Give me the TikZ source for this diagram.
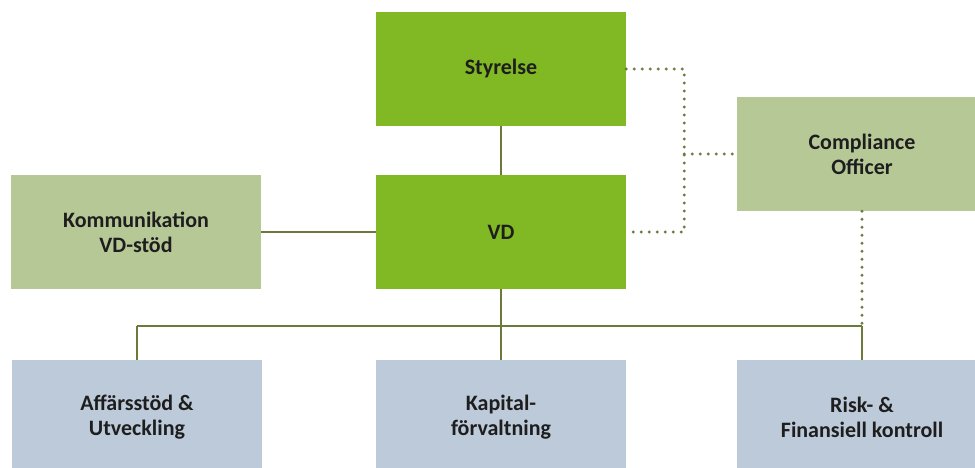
\documentclass[tikz,border=0pt]{standalone}
\usepackage{fontspec}
\setmainfont{Carlito}
\usetikzlibrary{positioning}
\definecolor{grn}{HTML}{80B924}
\definecolor{pal}{HTML}{B7C897}
\definecolor{blu}{HTML}{BDCADA}
\definecolor{oliv}{HTML}{6B7A3A}
\definecolor{txt}{HTML}{1E1E1E}
\tikzset{box/.style={rectangle,minimum width=250pt,minimum height=114pt,inner sep=0pt,align=center,text=txt,font=\fontsize{22}{25}\selectfont\bfseries}}
\tikzset{boxg/.style={box,fill=grn}}
\tikzset{boxl/.style={box,fill=pal}}
\tikzset{boxb/.style={box,fill=blu}}
\tikzset{ln/.style={draw=oliv,line width=2pt}}
\tikzset{dt/.style={draw=oliv,line width=3.2pt,line cap=round,dash pattern=on 0pt off 8pt}}

\begin{document}
\begin{tikzpicture}[x=1pt,y=1pt]
\useasboundingbox (0,0) rectangle (975,468);
\begin{scope}[on grid]

\node[boxg] at (501,399) (sty) {Styrelse};
\node[boxg, below=163pt of sty] (vd) {VD};
\node[boxl, left=365pt of vd] (komm) {Kommunikation\\VD-stöd};
\node[boxl] at (862,314) (comp) {Compliance\\Officer};
\node[boxb, below=185pt of vd] (kap) {Kapital-\\förvaltning};
\node[boxb, left=364pt of kap] (aff) {Affärsstöd \&\\Utveckling};
\node[boxb, right=361pt of kap] (risk) {Risk- \&\\Finansiell kontroll};

\coordinate[below=37pt of vd.south] (B);
\coordinate (Bl) at (aff.north |- B);
\coordinate (Br) at (risk.north |- B);
\coordinate[right=58pt of sty.east] (P);
\coordinate[right=58pt of vd.east] (Q);
\coordinate (R) at (comp.west -| P);

\draw[ln] (sty) -- (vd);
\draw[ln] (komm) -- (vd);
\draw[ln] (vd) -- (B);
\draw[ln] (Bl) -- (Br);
\draw[ln] (Bl) -- (aff);
\draw[ln] (B) -- (kap);
\draw[ln] (Br) -- (risk);

\draw[dt] (sty.east) -- (P) -- (Q) -- (vd.east);
\draw[dt] (R) -- (comp.west);
\draw[dt] (comp) -- (Br);

\end{scope}
\end{tikzpicture}
\end{document}
